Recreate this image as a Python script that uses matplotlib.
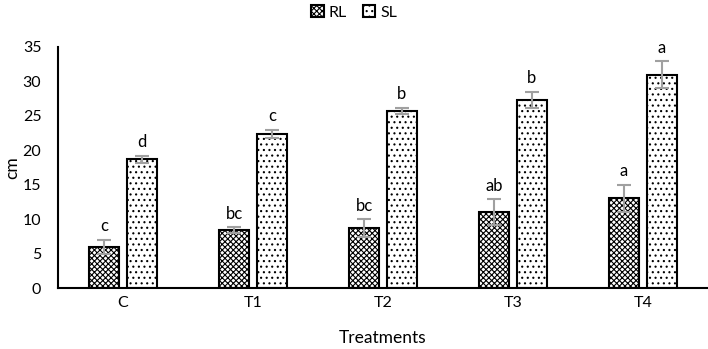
import matplotlib.pyplot as plt
import numpy as np

plt.rcParams['font.family'] = ['Lato', 'DejaVu Sans']
plt.rcParams['hatch.linewidth'] = 0.8

treatments = ['C', 'T1', 'T2', 'T3', 'T4']
rl = [6.0, 8.4, 8.7, 11.0, 13.0]
rl_err = [1.0, 0.45, 1.3, 1.9, 2.0]
sl = [18.7, 22.35, 25.7, 27.3, 31.0]
sl_err = [0.5, 0.6, 0.5, 1.2, 1.9]
rl_letters = ['c', 'bc', 'bc', 'ab', 'a']
sl_letters = ['d', 'c', 'b', 'b', 'a']

fig = plt.figure(figsize=(7.08, 3.49), dpi=100)
ax = fig.add_axes([58/708, 61/349, 650/708, 241/349])

x = np.arange(len(treatments))
w = 0.23
off = 0.146

ax.bar(x - off, rl, w, color='white', edgecolor='black', linewidth=1.5,
       hatch='xxxxxx', label='RL', zorder=2)
ax.bar(x + off, sl, w, color='white', edgecolor='black', linewidth=1.5,
       hatch='...', label='SL', zorder=2)

ax.errorbar(x - off, rl, yerr=rl_err, fmt='none', ecolor='#a0a0a0',
            elinewidth=1.5, capsize=5, capthick=1.5, zorder=3)
ax.errorbar(x + off, sl, yerr=sl_err, fmt='none', ecolor='#a0a0a0',
            elinewidth=1.5, capsize=5, capthick=1.5, zorder=3)

for i in range(len(treatments)):
    ax.annotate(rl_letters[i], (x[i] - off, rl[i] + rl_err[i]), xytext=(0, 4),
                textcoords='offset points', ha='center', va='bottom', fontsize=12)
    ax.annotate(sl_letters[i], (x[i] + off, sl[i] + sl_err[i]), xytext=(0, 4),
                textcoords='offset points', ha='center', va='bottom', fontsize=12)

ax.set_xlim(-0.5, 4.5)
ax.set_ylim(0, 35)
ax.set_yticks(range(0, 36, 5))
ax.set_xticks(x)
ax.set_xticklabels(treatments)
ax.tick_params(axis='both', length=0, labelsize=11.5)
ax.tick_params(axis='x', pad=6)
ax.tick_params(axis='y', pad=12)
ax.set_ylabel('cm', fontsize=12.5, labelpad=2)
ax.set_xlabel('Treatments', fontsize=12.5, labelpad=14)

ax.spines['right'].set_visible(False)
ax.spines['top'].set_visible(False)
ax.spines['left'].set_linewidth(1.5)
ax.spines['bottom'].set_linewidth(1.5)

fig.legend(loc='center', bbox_to_anchor=(0.5, 0.965), ncol=2, frameon=False,
           fontsize=11.5, handlelength=0.8, handleheight=0.8, handletextpad=0.3,
           columnspacing=1.0)

plt.savefig('out.png', dpi=100)
